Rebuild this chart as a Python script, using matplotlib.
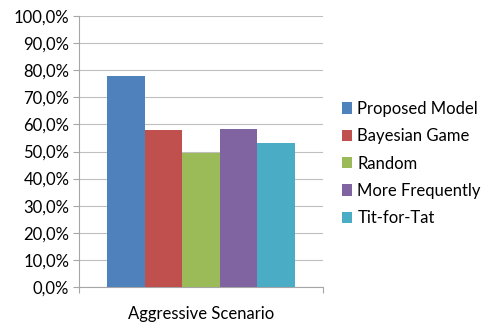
import matplotlib
matplotlib.use("Agg")
import matplotlib.pyplot as plt
import numpy as np
from matplotlib.ticker import FuncFormatter

# Data
category = "Aggressive Scenario"
series = ["Proposed Model", "Bayesian Game", "Random", "More Frequently", "Tit-for-Tat"]
values = [78.0, 58.0, 49.5, 58.2, 53.0]
colors = ["#4F81BD", "#C0504D", "#9BBB59", "#8064A2", "#4BACC6"]

plt.rcParams['font.family'] = ['Lato', 'DejaVu Sans']

fig = plt.figure(figsize=(4.94, 3.29), dpi=100)
ax = fig.add_axes([0.16, 0.128, 0.494, 0.823])

n = len(series)
w = 0.77 / n
xs = (np.arange(n) - (n - 1) / 2) * w
bars = [ax.bar(x, v, width=w, color=c, label=s, zorder=3)
        for x, v, c, s in zip(xs, values, colors, series)]

ax.set_xlim(-0.5, 0.5)
ax.set_ylim(0, 100)
ax.set_yticks(np.arange(0, 101, 10))
ax.yaxis.set_major_formatter(FuncFormatter(lambda v, p: f"{v:.1f}%".replace(".", ",")))
ax.set_xticks([-0.5, 0.5])
ax.set_xticklabels(["", ""])
ax.set_xticks([0], minor=True)
ax.set_xticklabels([category], minor=True)
ax.tick_params(axis='x', which='minor', length=0, pad=14, labelsize=12)
ax.tick_params(axis='x', which='major', length=4, color='#a6a6a6')
ax.tick_params(axis='y', length=4, color='#a6a6a6', labelsize=12, pad=3)

ax.grid(axis='y', color='#bfbfbf', linewidth=0.8, zorder=0)
for side in ['top', 'right']:
    ax.spines[side].set_visible(False)
ax.spines['left'].set_color('#a6a6a6')
ax.spines['bottom'].set_color('#a6a6a6')

fig.legend(handles=bars, labels=series, loc='center left',
           bbox_to_anchor=(0.678, 0.503), frameon=False, fontsize=12,
           handlelength=0.65, handleheight=0.65, handletextpad=0.3,
           labelspacing=0.68, borderaxespad=0)

fig.savefig("out.png", dpi=100)
